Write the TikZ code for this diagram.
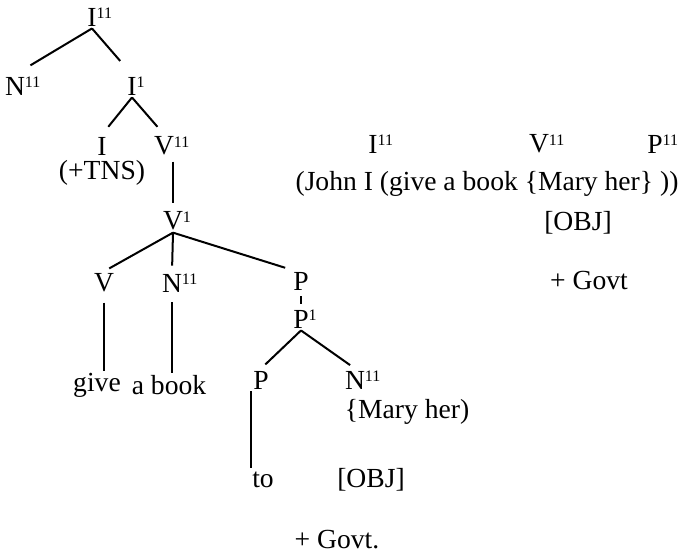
\documentclass[tikz,border=0pt]{standalone}
\usepackage{fontspec}
\setmainfont{Liberation Serif}
\usepackage{tikz}

\newcommand{\lvl}[2]{#1\rlap{\raisebox{3.6pt}{\fontsize{8}{8}\selectfont #2}}}

\begin{document}
\begin{tikzpicture}[x=0.5pt, y=-0.5pt, every node/.style={font=\fontsize{13.8}{16}\selectfont, inner sep=1pt}, br/.style={line width=1pt, shorten >=3pt}]
	\path[fill=white, use as bounding box] (0,0) rectangle (679,554);
	% tree
	\node (I11) at (92,17) {\lvl{I}{11}};
	\node (N11) at (15,86) {\lvl{N}{11}};
	\node (I1) at (132,86) {\lvl{I}{1}};
	\node (I) at (102,146) {I};
	\node (V11) at (164,146) {\lvl{V}{11}};
	\node (tns) at (102,173) {(+TNS)};
	\node (V1) at (173,221) {\lvl{V}{1}};
	\node (V) at (104,283) {V};
	\node (N11b) at (172,283) {\lvl{N}{11}};
	\node (P) at (301,281) {P};
	\node (P1) at (301,319) {\lvl{P}{1}};
	\node (P2) at (261,380) {P};
	\node (N11c) at (355,380) {\lvl{N}{11}};
	\node (give) at (97,385) {give};
	\node (book) at (169,385) {a book};
	\node (mary) at (407,412) {\{Mary her)};
	\node (to) at (263,480) {to};
	\node (obj) at (371,480) {[OBJ]};
	\node (govt) at (337,540) {+ Govt.};
	% bracketing on the right
	\node (I11r) at (373,144) {\lvl{I}{11}};
	\node (V11r) at (539,144) {\lvl{V}{11}};
	\node (P11r) at (655,144) {\lvl{P}{11}};
	\node (john) at (487,184) {(John I (give a book \{Mary her\} ))};
	\node (objr) at (578,223) {[OBJ]};
	\node (govtr) at (589,280) {+ Govt};
	\draw[br, shorten >=9pt] (I11.south) -- (N11.north);
	\draw[br, shorten >=9pt] (I11.south) -- (I1.north);
	\draw[br, shorten >=5pt] (I1.south) -- (I.north);
	\draw[br, shorten >=5pt] (I1.south) -- (V11.north);
	\draw[br, shorten <=2pt] (V1.north |- V11.south) -- (V1.north);
	\draw[br] (V1.south) -- (V.north);
	\draw[br] (V1.south) -- (N11b.north);
	\draw[br] (V1.south) -- (P.north west);
	\draw[br, shorten <=2pt, shorten >=2pt] (P.south) -- (P1.north);
	\draw[br] (P1.south) -- (P2.north);
	\draw[br] (P1.south) -- (N11c.north);
	\draw[br, shorten <=4pt, shorten >=0pt] (V.south) -- (V.south |- give.north);
	\draw[br, shorten <=4pt, shorten >=0pt] (N11b.south) -- (N11b.south |- book.north);
	\draw[br, shorten >=1pt] (P2.south west) -- (P2.south west |- to.north);
\end{tikzpicture}
\end{document}
